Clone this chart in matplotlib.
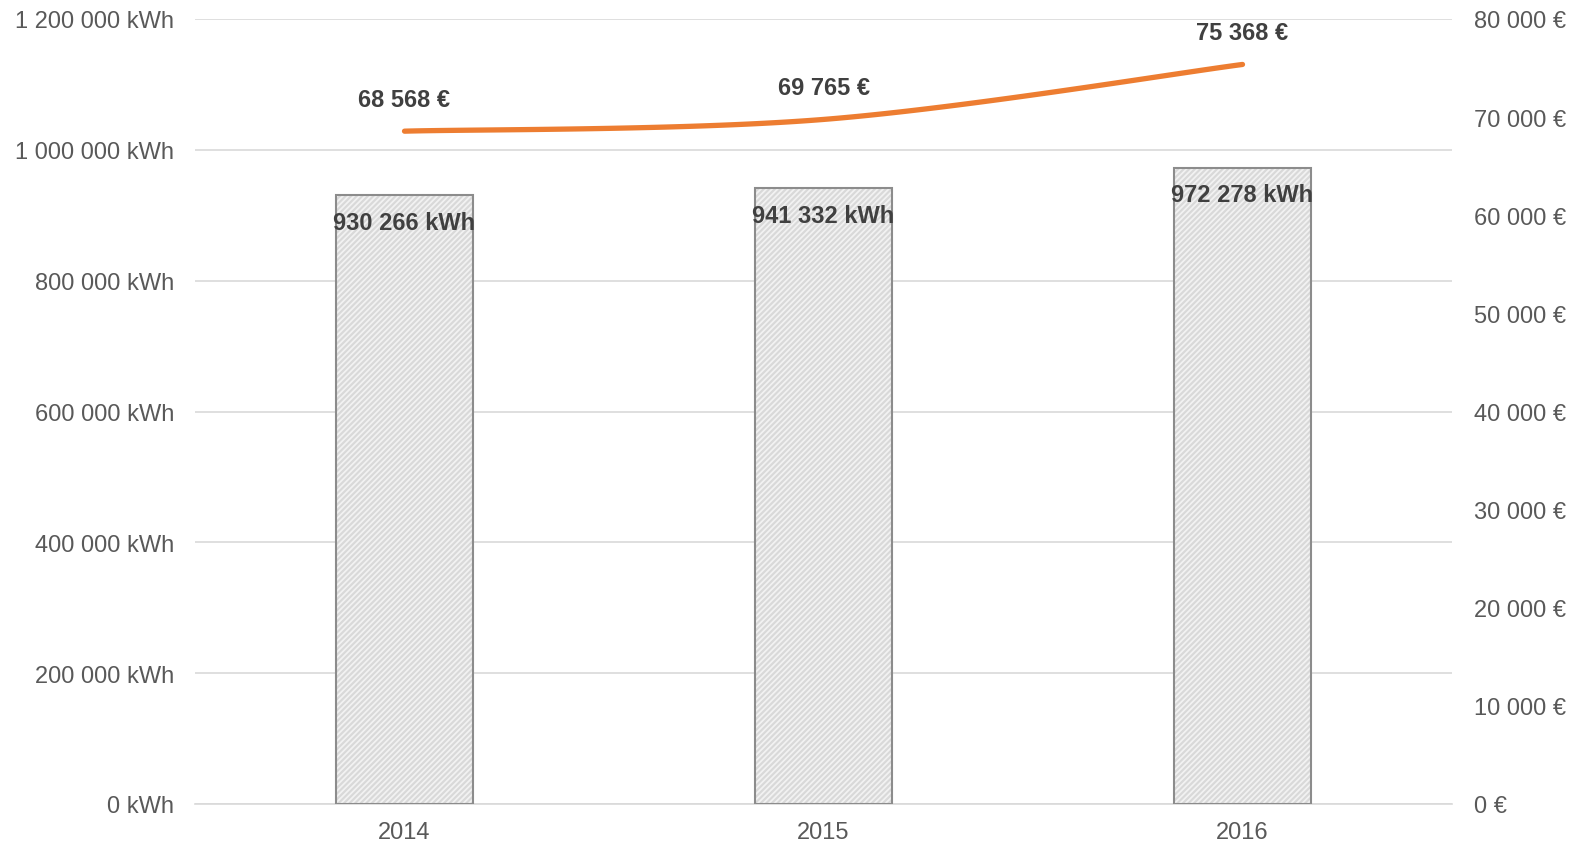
import matplotlib
matplotlib.use("Agg")
import matplotlib.pyplot as plt
import numpy as np

years = ["2014", "2015", "2016"]
kwh = [930266, 941332, 972278]
cost = [68568, 69765, 75368]
kwh_labels = ["930 266 kWh", "941 332 kWh", "972 278 kWh"]
cost_labels = ["68 568 €", "69 765 €", "75 368 €"]
left_ticks = [0, 200000, 400000, 600000, 800000, 1000000, 1200000]
left_tick_labels = ["0 kWh", "200 000 kWh", "400 000 kWh", "600 000 kWh", "800 000 kWh", "1 000 000 kWh", "1 200 000 kWh"]
right_ticks = [0, 10000, 20000, 30000, 40000, 50000, 60000, 70000, 80000]
right_tick_labels = ["0 €", "10 000 €", "20 000 €", "30 000 €", "40 000 €", "50 000 €", "60 000 €", "70 000 €", "80 000 €"]

plt.rcParams['font.family'] = ['Liberation Sans', 'DejaVu Sans']
plt.rcParams['hatch.linewidth'] = 1.3

fig = plt.figure(figsize=(15.8, 8.45), dpi=100)
ax = fig.add_axes([195/1580, 40/845, (1452-195)/1580, (805-20)/845])
ax2 = ax.twinx()

x = np.arange(len(years))
w = 0.325
ax.bar(x, kwh, width=w, color='#d9d9d9', edgecolor='#f2f2f2', hatch='//////', linewidth=0, zorder=2)
ax.bar(x, kwh, width=w, fill=False, edgecolor='#8c8c8c', linewidth=1.5, zorder=3)

ax.set_xlim(-0.5, 2.5)
ax.set_ylim(0, 1200000)
ax.set_yticks(left_ticks)
ax.set_yticklabels(left_tick_labels)
ax.set_xticks(x)
ax.set_xticklabels(years)
ax.grid(axis='y', color='#d9d9d9', linewidth=1.2, zorder=0)
ax.set_axisbelow(True)
for s in ax.spines.values():
    s.set_visible(False)
ax.spines['bottom'].set_visible(True)
ax.spines['bottom'].set_color('#d9d9d9')
ax.spines['bottom'].set_linewidth(1.2)
ax.tick_params(axis='both', length=0, labelsize=17, labelcolor='#595959')
ax.tick_params(axis='y', pad=15)
ax.tick_params(axis='x', pad=12)

for xi, v, lab in zip(x, kwh, kwh_labels):
    ax.annotate(lab, (xi, v), xytext=(0, -27), textcoords='offset pixels',
                ha='center', va='center', fontsize=17, fontweight='bold', color='#404040', zorder=5)

# smooth line (Catmull-Rom style Bezier, like spreadsheet smoothing)
px = np.array(x, dtype=float)
py = np.array(cost, dtype=float)
pts = np.column_stack([px, py])
ext = np.vstack([pts[0], pts, pts[-1]])
curve = []
t = np.linspace(0, 1, 60)
for i in range(len(pts) - 1):
    p0, p1, p2, p3 = ext[i], ext[i + 1], ext[i + 2], ext[i + 3]
    c1 = p1 + (p2 - p0) / 6
    c2 = p2 - (p3 - p1) / 6
    seg = ((1 - t) ** 3)[:, None] * p1 + (3 * (1 - t) ** 2 * t)[:, None] * c1 + \
          (3 * (1 - t) * t ** 2)[:, None] * c2 + (t ** 3)[:, None] * p2
    curve.append(seg)
curve = np.vstack(curve)
ax2.plot(curve[:, 0], curve[:, 1], color='#ED7D31', linewidth=3.8, solid_capstyle='round', zorder=4)

ax2.set_ylim(0, 80000)
ax2.set_yticks(right_ticks)
ax2.set_yticklabels(right_tick_labels)
for s in ax2.spines.values():
    s.set_visible(False)
ax2.tick_params(axis='y', length=0, labelsize=17, labelcolor='#595959', pad=16)

for xi, v, lab in zip(x, cost, cost_labels):
    ax2.annotate(lab, (xi, v), xytext=(0, 32), textcoords='offset pixels',
                 ha='center', va='center', fontsize=17, fontweight='bold', color='#404040')

fig.savefig("out.png", dpi=100)
